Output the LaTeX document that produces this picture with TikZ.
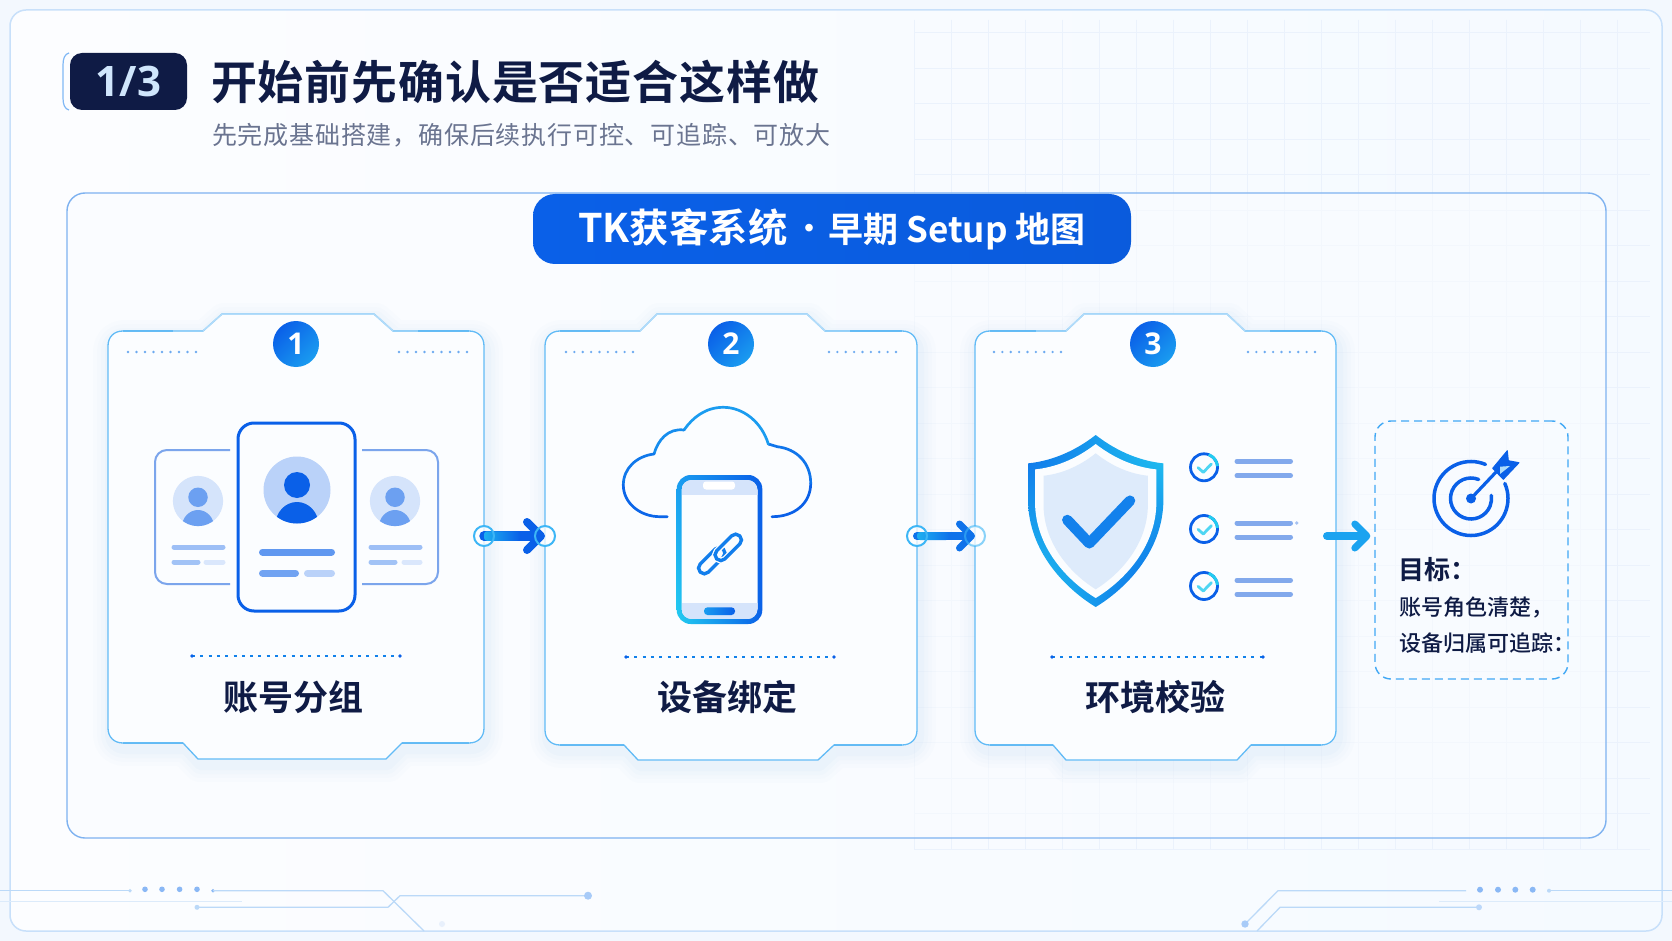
\documentclass[tikz,border=0pt]{standalone}
\usepackage{fontspec}
\usetikzlibrary{arrows.meta,calc,shadings}
\setmainfont{Open Sans}
\newfontfamily\cjk{Noto Sans CJK SC}[BoldFont={Noto Sans CJK SC Bold}]
\newfontfamily\cjkmed{Noto Sans CJK SC Medium}
\newfontfamily\cjktitle{Noto Sans CJK SC}[BoldFont={Noto Sans CJK SC Bold},LetterSpace=1.8]
\newfontfamily\cjksub{Noto Sans CJK SC}[LetterSpace=3.2]
\definecolor{navy}{HTML}{0F1B45}
\definecolor{blueA}{HTML}{0A60E8}
\definecolor{blueB}{HTML}{1A9CF0}
\definecolor{cyanA}{HTML}{22CCF0}
\definecolor{cardline}{HTML}{62BBF6}
\definecolor{cardpale}{HTML}{B2DCFA}
\definecolor{cardfill}{HTML}{FBFDFF}
\definecolor{glowc}{HTML}{2F8DF0}
\definecolor{portc}{HTML}{3DB6F6}
\definecolor{rowdot}{HTML}{6CAAF0}
\definecolor{sideline}{HTML}{7BA5EC}
\definecolor{tracea}{HTML}{BBD9F8}
\definecolor{traceb}{HTML}{DCEBFB}
\definecolor{traced}{HTML}{A8CBF8}
\definecolor{dotd}{HTML}{8AB8F5}
\definecolor{lineb}{HTML}{82A9EC}
\definecolor{gridc}{HTML}{EBF2FC}
\tikzset{
  x=1pt,y=-1pt,
  cardlabel/.style={font=\cjk\bfseries\fontsize{35}{38}\selectfont,text=navy,inner sep=0pt},
  numdisc/.style={circle,minimum size=46pt,inner sep=0pt,text=white,font=\bfseries\fontsize{30}{30}\selectfont},
  portnode/.style={circle,minimum size=20pt,inner sep=0pt,fill=white,fill opacity=.75},
  portring/.style={draw=portc,line width=2pt},
  flow/.style={line cap=round,line width=9.5pt,color=blueA},
  goaltext/.style={anchor=west,inner sep=0pt,text=navy},
  trace/.style={line width=1.3pt,color=tracea},
  tracepale/.style={line width=1.2pt,color=traceb},
  lineicon/.style={line width=5pt,line cap=round,color=lineb},
}
% ---- card outline
\def\cardbox#1#2#3#4#5#6#7#8#9{\def\cL{#1}\def\cR{#2}\def\cB{#3}\def\cT{#4}%
  \def\ta{#5}\def\tb{#6}\def\tc{#7}\def\td{#8}\def\ba{#9}\cardboxB}
\def\cardboxB#1#2#3{\def\bb{#1}\def\bc{#2}\def\bd{#3}%
  \def\cardpath{(\ta,331) -- (\tb,314) -- (\tc,314) -- (\td,331) -- ({\cR-15},331)
   .. controls ({\cR-6},331) and (\cR,337) .. (\cR,346) -- (\cR,{\cB-15})
   .. controls (\cR,{\cB-6}) and ({\cR-6},\cB) .. ({\cR-15},\cB) -- (\bd,\cB) -- (\bc,\cT) -- (\bb,\cT) -- (\ba,\cB) -- ({\cL+15},\cB)
   .. controls ({\cL+6},\cB) and (\cL,{\cB-6}) .. (\cL,{\cB-15}) -- (\cL,346)
   .. controls (\cL,337) and ({\cL+6},331) .. ({\cL+15},331) -- cycle}%
  \begin{scope}[shift={(2,6)}]
   \foreach \w/\o in {34/.010,26/.012,18/.016,10/.022}{\draw[line width=\w pt,color=glowc,opacity=\o,line join=round] \cardpath;}
  \end{scope}
  \fill[cardfill] \cardpath;
  \draw[cardline,line width=1.3pt] \cardpath;
  \draw[cardpale,line width=1.5pt] (\ta,331) -- (\tb,314) -- (\tc,314) -- (\td,331);
  \draw[blueB,line width=1.3pt,opacity=.4] ({\cL+15},\cB) -- (\ba,\cB);
  \draw[blueB,line width=1.3pt,opacity=.4] (\bd,\cB) -- ({\cR-15},\cB);
  \draw[blueB,line width=1.3pt,opacity=.4] ({\cL+15},331) -- ({\ta-30},331);
  \draw[blueB,line width=1.3pt,opacity=.4] ({\td+25},331) -- ({\cR-15},331);
}
\newcommand\dotrow[3]{\foreach \i in {0,...,8}{\fill[rowdot] ({#1+\i*(#2-#1)/8},#3) circle[radius=1.3pt];}}
\newcommand\divider[3]{\draw[blueA!70!cyanA,line width=1.5pt,dash pattern=on 3pt off 5.3pt] (#1,#3) -- (#2,#3);
  \fill[blueA] (#1,#3) circle[radius=1.8pt] (#2,#3) circle[radius=1.8pt];}
% ---- avatar: x y scale disc head
\newcommand\avatar[5]{\begin{scope}[shift={(#1,#2)},scale=#3]
  \fill[#4] (0,0) circle[radius=33.5pt];
  \begin{scope}\clip (0,0) circle[radius=33.5pt];
    \fill[#5] (0,35) ellipse[x radius=21.5pt,y radius=23pt];
  \end{scope}
  \fill[#5] (0,-5) circle[radius=13pt];
\end{scope}}
\newcommand\pillbar[4]{\draw[line width=#4,line cap=round,color=#3] (#1) -- (#2);}
% ---- shield, unit shape
\newcommand\shieldshape[5]{\begin{scope}[shift={(#1,#2)},x=#3pt,y=-#4pt]
  \path[#5] (0,0) .. controls (.35,.107) and (.7,.153) .. (1,.165) -- (1,.374)
    .. controls (1,.683) and (.42,.9) .. (0,1) .. controls (-.42,.9) and (-1,.683) .. (-1,.374)
    -- (-1,.165) .. controls (-.7,.153) and (-.35,.107) .. (0,0) -- cycle;
\end{scope}}
\newcommand\checkicon[2]{
  \node[circle,minimum size=27pt,inner sep=0pt,draw=blueA,line width=2.8pt] (#1) at (1204,#2) {};
  \draw[cyanA,line width=2.8pt] ([shift={(70:13.5pt)}]#1.center) arc[start angle=70,end angle=5,radius=13.5pt];
  \draw[cyanA!80!white,line width=2.8pt,line cap=round,line join=round] ($(#1.center)+(-6,.3)$) -- ($(#1.center)+(-.7,5)$) -- ($(#1.center)+(7.3,-3.3)$);
}
\begin{document}
\begin{tikzpicture}
\useasboundingbox (0,0) rectangle (1672,941);
% background
\fill[color={rgb,255:red,243;green,248;blue,254}] (0,0) rectangle (1672,941);
\shade[left color={rgb,255:red,252;green,253;blue,255},right color={rgb,255:red,245;green,250;blue,255},rounded corners=16pt] (10,10) rectangle (1662,931);
% faint grid
\begin{scope}
 \clip (914,20) rectangle (1650,850);
 \foreach \gx in {914,951,...,1650}{\draw[gridc,line width=.7pt] (\gx,20) -- (\gx,850);}
 \foreach \gy in {32.7,68.2,...,850}{\draw[gridc,line width=.7pt] (914,\gy) -- (1650,\gy);}
\end{scope}
\draw[color={rgb,255:red,200;green,224;blue,250},line width=1.5pt,rounded corners=16pt] (10,10) rectangle (1662,931);
% footer traces
\draw[trace] (0,890.7) -- (130,890.7);
\draw[tracepale] (0,901.7) -- (242,901.7);
\fill[tracea] (130,890.7) circle[radius=1.8pt];
\foreach \dx in {145,162,179.6,197}{\fill[dotd] (\dx,889.3) circle[radius=2.8pt];}
\fill[dotd] (213,890.7) circle[radius=1.8pt];
\draw[trace] (213,890.7) -- (383,890.7) -- (424,931);
\draw[trace] (197,907.3) -- (388,907.3) -- (400,895.7) -- (588,895.7);
\fill[tracea] (197,907.3) circle[radius=2.5pt];
\fill[traced] (588,895.7) circle[radius=4pt];
\fill[color={rgb,255:red,232;green,240;blue,252}] (442,924) circle[radius=3pt];
\draw[trace] (1245,924) -- (1278,890.7) -- (1466,890.7);
\fill[traced] (1245,924) circle[radius=3.7pt];
\foreach \dx in {1480,1498,1515.3,1532.7}{\fill[dotd] (\dx,889.7) circle[radius=3pt];}
\fill[tracea] (1549,890.7) circle[radius=2pt];
\draw[trace] (1549,890.7) -- (1672,890.7);
\draw[tracepale] (1439,901.7) -- (1672,901.7);
\draw[trace] (1257,931) -- (1280,907.3) -- (1479,907.3);
\fill[color={rgb,255:red,188;green,216;blue,250}] (1479,907.3) circle[radius=3pt];
% header
\draw[color={rgb,255:red,128;green,184;blue,245},line width=1.2pt] (69,53) .. controls (65,54) and (63,58) .. (63,65) -- (63,98) .. controls (63,105) and (65,109) .. (69,110);
\node[fill=navy,rounded corners=12pt,minimum width=117pt,minimum height=57pt,inner sep=0pt,text={rgb,255:red,208;green,230;blue,252},font=\bfseries\fontsize{42}{42}\selectfont] (badge) at (128.5,81.5) {1/3};
\node[anchor=west,inner sep=0pt,text=navy,font=\cjktitle\bfseries\fontsize{46}{50}\selectfont] (title) at (211,82) {开始前先确认是否适合这样做};
\node[anchor=west,inner sep=0pt,text={rgb,255:red,106;green,116;blue,144},font=\cjksub\fontsize{25}{28}\selectfont] (subtitle) at (212,135) {先完成基础搭建，确保后续执行可控、可追踪、可放大};
% panel
\draw[color={rgb,255:red,126;green,178;blue,240},line width=1.4pt,rounded corners=18pt,fill={rgb,255:red,250;green,252;blue,255},fill opacity=.55] (67,193) rectangle (1606,838);
\node[left color=blueA,right color=blueA!95!black,rounded corners=22pt,minimum width=598pt,minimum height=70pt,inner sep=0pt,text=white,font=\cjk\bfseries] (pill) at (832,229) {\raisebox{-8pt}{\fontsize{39.4}{40}\selectfont TK获客系统\hspace{7pt}\raisebox{3pt}{\fontsize{30}{30}\selectfont ·}\hspace{4pt}\fontsize{35}{36}\selectfont 早期 Setup 地图}\hspace{9pt}};
% cards
\cardbox{108}{484}{743}{759}{203}{222}{374}{393}{183}{198}{386}{402}
\cardbox{545}{917}{745}{760}{640}{657}{807}{825}{624}{638}{818}{834}
\cardbox{975}{1336}{745}{760}{1066}{1084}{1227}{1245}{1053}{1066}{1237}{1251}
% number discs
\foreach \nm/\cx/\txt in {n1/296/1,n2/731/2,n3/1153/3}{
 \node[numdisc,left color=blueA,right color=blueB,shading angle=45] (\nm) at (\cx,344) {\txt};
}
\dotrow{128}{196}{352}\dotrow{399}{467}{352}
\dotrow{566}{633}{352}\dotrow{829}{896}{352}
\dotrow{994}{1061}{352}\dotrow{1248}{1315}{352}
\divider{192}{400}{656}\divider{626}{834}{657}\divider{1052}{1263}{657}
\node[cardlabel] (lab1) at (293,697) {账号分组};
\node[cardlabel] (lab2) at (727,697) {设备绑定};
\node[cardlabel] (lab3) at (1155.5,697) {环境校验};
% icon 1 side cards
\draw[sideline,line width=2pt,rounded corners=12pt] (230,450) -- (155,450) -- (155,584) -- (230,584);
\draw[sideline,line width=2pt,rounded corners=12pt] (362,450) -- (438,450) -- (438,584) -- (362,584);
\avatar{198}{501}{.75}{blueA!17!white}{blueA!60!white}
\avatar{395}{501}{.75}{blueA!17!white}{blueA!60!white}
\pillbar{174,547}{223,547}{blueA!40!white}{5pt}
\pillbar{174,562}{198,562}{blueA!38!white}{5pt}
\pillbar{206,562}{223,562}{blueA!15!white}{5pt}
\pillbar{371,547}{420,547}{blueA!40!white}{5pt}
\pillbar{371,562}{395,562}{blueA!38!white}{5pt}
\pillbar{404,562}{420,562}{blueA!15!white}{5pt}
% icon 1 centre card
\draw[blueA,line width=3pt,rounded corners=16pt,fill=cardfill] (238,423) rectangle (355,611);
\avatar{297}{490}{1}{blueA!28!white}{blueA}
\pillbar{262.5,552}{331.5,552}{blueA!65!white}{7pt}
\pillbar{262.5,573}{295.5,573}{blueA!58!white}{7pt}
\pillbar{307.5,573}{331.5,573}{blueA!28!white}{7pt}
% icon 2 cloud
\begin{scope}[line width=2.7pt,line cap=round,line join=round]
\draw[color=blueA] (772,516.7) .. controls (795,516.7) and (810.7,503) .. (810.7,483.3);
\draw[color=blueA!65!blueB] (810.7,483.3) .. controls (810.7,463) and (797,449) .. (777.3,446.7) -- (768.3,444);
\draw[color=blueB] (768.3,444) .. controls (762,423) and (744,407.3) .. (723.3,407.3) .. controls (706,407.3) and (693,417) .. (684,430);
\draw[color=blueB!75!blueA] (684,430) .. controls (668,428) and (658,440) .. (654,454);
\draw[color=blueB!40!blueA] (654,454) .. controls (637,456) and (623.3,468) .. (623.3,485);
\draw[color=blueA!90!blueB] (623.3,485) .. controls (623.3,503) and (640,516.7) .. (660,516.7) -- (667.3,516.7);
\end{scope}
% icon 2 phone
\shade[shading=bilinear interpolation,upper left=blueB,upper right=blueA,lower left=cyanA,lower right=blueA,even odd rule,rounded corners=14pt] (676.7,475) rectangle (762.3,624) [rounded corners=10pt] (681.5,480) rectangle (757.5,619);
\begin{scope}
 \clip[rounded corners=10pt] (681.5,480) rectangle (757.5,619);
 \fill[blueA!17!white] (681.5,480) rectangle (757.5,495);
 \fill[blueA!17!white] (681.5,603) rectangle (757.5,619);
\end{scope}
\fill[white,rounded corners=3pt] (703,481.5) rectangle (735,489.5);
\shade[left color=blueB,right color=blueA,rounded corners=3.5pt] (704,607.3) rectangle (735,615);
\begin{scope}[shift={(720,554)},rotate=45,line width=3.4pt,color=blueB!50!blueA]
 \draw[rounded corners=5.6pt] (-26.75,-6.9) rectangle (5.75,4.6);
 \draw[cardfill,line width=6pt,rounded corners=5.6pt] (-5.75,-4.6) rectangle (26.75,6.9);
 \draw[rounded corners=5.6pt] (-5.75,-4.6) rectangle (26.75,6.9);
\end{scope}
% icon 3 shield
\shieldshape{1095.7}{435}{67.7}{172}{shading=bilinear interpolation,upper left=blueA!80!blueB,upper right=cyanA,lower left=cyanA,lower right=blueA,shade}
\shieldshape{1095.7}{444}{60.7}{154}{fill=cardfill}
\shieldshape{1095.7}{453.3}{52.2}{136}{fill={rgb,255:red,222;green,235;blue,251}}
\draw[color=blueA!45!blueB,line width=10.5pt,line cap=round,line join=round] (1067.3,520) -- (1089.3,543.3) -- (1130,500.7);
\checkicon{ck1}{467.3}\checkicon{ck2}{529}\checkicon{ck3}{586}
\foreach \ly in {461.3,475.7,523,537,580.3,594.3}{\draw[lineicon] (1237,\ly) -- (1290.5,\ly);}
\fill[lineb,opacity=.7] (1296.7,523) circle[radius=1.8pt];
% goal box
\node[draw={rgb,255:red,64;green,168;blue,245},dash pattern=on 8pt off 5pt,line width=1.4pt,rounded corners=16pt,minimum width=193pt,minimum height=258pt,inner sep=0pt] (goal) at (1471.5,550) {};
\coordinate (tc) at (1471,498.5);
\begin{scope}[color=blueA,line cap=round]
\draw[line width=3.5pt] ([shift={(67:37pt)}]tc) arc[start angle=67,end angle=384,radius=37pt];
\draw[line width=3.5pt] ([shift={(68:20.5pt)}]tc) arc[start angle=68,end angle=369,radius=20.5pt];
\fill (tc) circle[radius=5pt];
\draw[line width=3.2pt] (tc) -- (1497,471);
\fill[line join=round,draw=blueA,line width=1pt] (1507.3,450.7) -- (1508.3,460.7) -- (1519,462.7) -- (1503.3,479.3) -- (1492.7,468.3) -- cycle;
\fill[blueB!35!white] (1500,466.7) -- (1510,466) -- (1500,474) -- cycle;
\end{scope}
\node[goaltext,font=\cjk\bfseries\fontsize{26}{28}\selectfont] (g1) at (1398,570) {目标：};
\node[goaltext,font=\cjkmed\fontsize{22}{25}\selectfont] (g2) at (1399,607) {账号角色清楚，};
\node[goaltext,font=\cjkmed\fontsize{22}{25}\selectfont] (g3) at (1399,643) {设备归属可追踪：};
% connectors
\node[portnode] (p1) at (484,536) {};
\node[portnode] (p2) at (545,536) {};
\node[portnode] (p3) at (917,536) {};
\node[portnode] (p4) at (975,536) {};
\coordinate (a3s) at (1327,536);
\draw[flow,-{Straight Barb[length=14pt,width=28pt,line width=8pt,round]}] (p1.center) -- (p2.center);
\shade[left color=blueB!60!cyanA,right color=blueA,rounded corners=3pt] ($(p1.center)+(0,-4.75)$) rectangle ($(p1.center)+(36,4.75)$);
\draw[flow,line width=8pt,color=blueA!70!blueB,-{Straight Barb[length=12pt,width=24pt,line width=7pt,round]}] (p3.center) -- (p4.center);
\shade[left color=blueB!60!cyanA,right color=blueA!70!blueB,rounded corners=3pt] ($(p3.center)+(0,-4)$) rectangle ($(p3.center)+(32,4)$);
\draw[flow,line width=8pt,color=blueB!85!cyanA,shorten >=4pt,-{Straight Barb[length=12pt,width=24pt,line width=7pt,round]}] (a3s) -- (a3s -| goal.west);
\draw[portring] (p1.center) circle[radius=10pt];
\draw[portring] (p2.center) circle[radius=10pt];
\draw[portring] (p3.center) circle[radius=10pt];
\draw[portring,draw opacity=.6] (p4.center) circle[radius=10pt];
\end{tikzpicture}
\end{document}
